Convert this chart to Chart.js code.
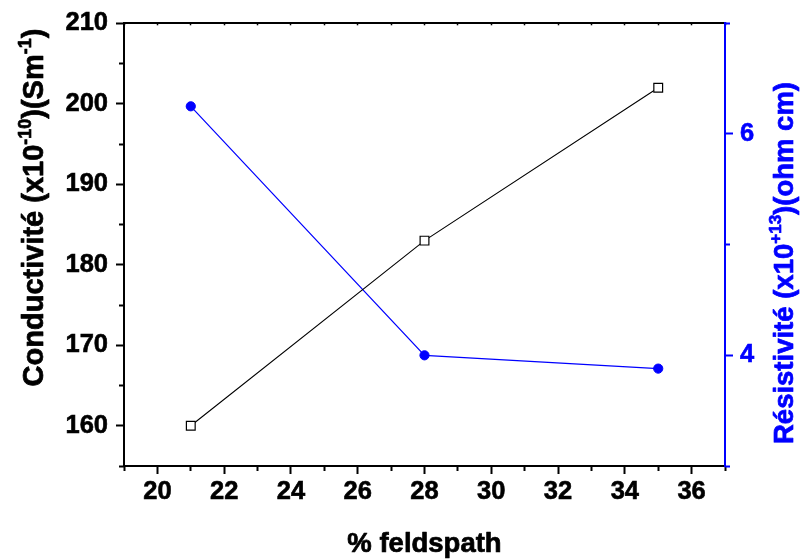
<!DOCTYPE html>
<html>
<head>
<meta charset="utf-8">
<script src="https://cdn.jsdelivr.net/npm/chart.js@4/dist/chart.umd.min.js"></script>
<style>
html,body{margin:0;padding:0;background:#fff;}
#wrap{width:801px;height:559px;position:relative;}
</style>
</head>
<body>
<div id="wrap"><canvas id="c" width="801" height="559"></canvas></div>
<script>
// ---- data ----
const feldspath = [21, 28, 35];
const conductivite = [160, 183, 202];
const resistivite = [6.25, 4.0, 3.88];

// ---- tick labels ----
const xMajorTicks = [20, 22, 24, 26, 28, 30, 32, 34, 36];
const xMinorTicks = [19, 21, 23, 25, 27, 29, 31, 33, 35, 37];
const xTopTicks = [19, 20, 21, 22, 23, 24, 25, 26, 27, 28, 29, 30, 31, 32, 33, 34, 35, 36, 37];
const yLeftTicks = [160, 170, 180, 190, 200, 210];
const yLeftMinor = [155, 165, 175, 185, 195, 205];
const yRightTicks = [4, 6];
const yRightMinor = [3, 5, 7];

const FONT = "'Liberation Sans', Arial, Helvetica, sans-serif";
const BLUE = '#0000ff';

function setTicks(arr) {
  return function (scale) { scale.ticks = arr.map(v => ({ value: v })); };
}

const titlePlugin = {
  id: 'titles',
  afterDraw(chart) {
    const ctx = chart.ctx;
    const ca = chart.chartArea;
    function rich(parts, size, color, cx, cy, rot) {
      ctx.save();
      ctx.translate(cx, cy);
      ctx.rotate(rot);
      ctx.fillStyle = color;
      ctx.strokeStyle = color;
      ctx.lineWidth = 0.7;
      ctx.lineJoin = 'round';
      ctx.textBaseline = 'alphabetic';
      ctx.textAlign = 'left';
      let total = 0;
      const items = parts.map(p => {
        const fs = p.sup ? size * 0.62 : size;
        ctx.font = 'bold ' + fs + 'px ' + FONT;
        const w = ctx.measureText(p.t).width;
        total += w;
        return { t: p.t, fs, w, sup: p.sup };
      });
      let x = -total / 2;
      items.forEach(it => {
        ctx.font = 'bold ' + it.fs + 'px ' + FONT;
        const yy = it.sup ? -size * 0.42 : 0;
        ctx.fillText(it.t, x, yy);
        ctx.strokeText(it.t, x, yy);
        x += it.w;
      });
      ctx.restore();
    }
    // x title
    rich([{ t: '% feldspath' }], 27.5, '#000', (ca.left + ca.right) / 2, 551.5, 0);
    // left title
    rich([{ t: 'Conductivité (x10' }, { t: '-10', sup: true }, { t: ')(Sm' }, { t: '-1', sup: true }, { t: ')' }],
      29, '#000', 43, 207.5, -Math.PI / 2);
    // right title
    rich([{ t: 'Résistivité (x10' }, { t: '+13', sup: true }, { t: ')(ohm cm)' }],
      27.5, BLUE, 793, 263, -Math.PI / 2);
  }
};

const tickFont = { family: FONT, size: 25.5, weight: 'bold' };

new Chart(document.getElementById('c'), {
  type: 'line',
  data: {
    datasets: [
      {
        label: 'Conductivité',
        data: feldspath.map((x, i) => ({ x: x, y: conductivite[i] })),
        yAxisID: 'y',
        xAxisID: 'x',
        borderColor: '#000',
        borderWidth: 1.1,
        backgroundColor: '#fff',
        pointStyle: 'rect',
        pointRadius: 6.2,
        pointBorderWidth: 1.2,
        pointBorderColor: '#000',
        pointBackgroundColor: '#fff',
        tension: 0
      },
      {
        label: 'Résistivité',
        data: feldspath.map((x, i) => ({ x: x, y: resistivite[i] })),
        yAxisID: 'y1',
        xAxisID: 'x',
        borderColor: BLUE,
        borderWidth: 1.2,
        backgroundColor: BLUE,
        pointStyle: 'circle',
        pointRadius: 4.6,
        pointBorderWidth: 1,
        pointBorderColor: BLUE,
        pointBackgroundColor: BLUE,
        tension: 0
      }
    ]
  },
  options: {
    responsive: false,
    animation: false,
    devicePixelRatio: 1,
    layout: { autoPadding: false, padding: { left: 0, right: 0, top: 23, bottom: 0 } },
    plugins: { legend: { display: false }, tooltip: { enabled: false } },
    scales: {
      x: {
        type: 'linear', position: 'bottom', min: 19, max: 37,
        afterBuildTicks: setTicks(xMajorTicks),
        afterFit(s) { s.height = 93; },
        ticks: { color: '#000', font: tickFont, padding: 3, maxRotation: 0, autoSkip: false, textStrokeColor: '#000', textStrokeWidth: 0.6 },
        grid: { drawOnChartArea: false, drawTicks: true, tickLength: 8, tickWidth: 2, tickColor: '#000' },
        border: { display: true, color: '#000', width: 2 }
      },
      xMinor: {
        type: 'linear', position: 'bottom', min: 19, max: 37, weight: -10,
        afterBuildTicks: setTicks(xMinorTicks),
        afterFit(s) { s.height = 0; },
        ticks: { display: false },
        grid: { drawOnChartArea: false, drawTicks: true, tickLength: 5, tickWidth: 2, tickColor: '#000' },
        border: { display: false }
      },
      xTop: {
        type: 'linear', position: 'top', min: 19, max: 37,
        afterBuildTicks: setTicks(xTopTicks),
        afterFit(s) { s.height = 0; },
        ticks: { display: false },
        grid: { drawOnChartArea: false, drawTicks: true, tickLength: -2, tickWidth: 1.5, tickColor: '#000' },
        border: { display: true, color: '#000', width: 2 }
      },
      y: {
        type: 'linear', position: 'left', min: 155, max: 210,
        afterBuildTicks: setTicks(yLeftTicks),
        afterFit(s) { s.width = 124; },
        ticks: { color: '#000', font: tickFont, padding: 8, autoSkip: false, textStrokeColor: '#000', textStrokeWidth: 0.6 },
        grid: { drawOnChartArea: false, drawTicks: true, tickLength: 8, tickWidth: 2, tickColor: '#000' },
        border: { display: true, color: '#000', width: 2 }
      },
      yMinor: {
        type: 'linear', position: 'left', min: 155, max: 210, weight: -10,
        afterBuildTicks: setTicks(yLeftMinor),
        afterFit(s) { s.width = 0; },
        ticks: { display: false },
        grid: { drawOnChartArea: false, drawTicks: true, tickLength: 5, tickWidth: 2, tickColor: '#000' },
        border: { display: false }
      },
      y1: {
        type: 'linear', position: 'right', min: 3, max: 7,
        afterBuildTicks: setTicks(yRightTicks),
        afterFit(s) { s.width = 76; },
        ticks: { color: BLUE, font: tickFont, padding: 7, autoSkip: false, textStrokeColor: BLUE, textStrokeWidth: 0.6 },
        grid: { drawOnChartArea: false, drawTicks: true, tickLength: 8, tickWidth: 2, tickColor: BLUE },
        border: { display: true, color: BLUE, width: 2 }
      },
      y1Minor: {
        type: 'linear', position: 'right', min: 3, max: 7, weight: -10,
        afterBuildTicks: setTicks(yRightMinor),
        afterFit(s) { s.width = 0; },
        ticks: { display: false },
        grid: { drawOnChartArea: false, drawTicks: true, tickLength: 5, tickWidth: 2, tickColor: BLUE },
        border: { display: false }
      }
    }
  },
  plugins: [titlePlugin]
});
</script>
</body>
</html>
